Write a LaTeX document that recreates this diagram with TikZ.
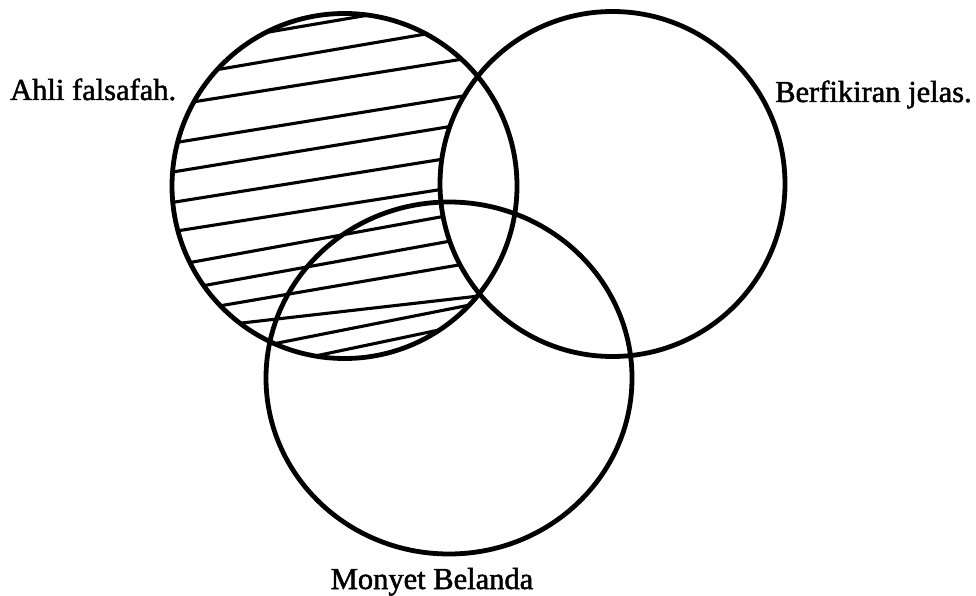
\documentclass[tikz,border=0pt]{standalone}
\usepackage{fontspec}
\setmainfont{Liberation Serif}
\newfontfamily\scanserif[FakeBold=1.6]{Liberation Serif}
\begin{document}
\begin{tikzpicture}[x=1pt,y=-1pt,
  ring/.style={line width=4.8pt},
  hatchline/.style={line width=3.1pt, line cap=round},
  lbl/.style={inner sep=0pt, font=\scanserif\fontsize{30.5}{34}\selectfont}]
\useasboundingbox (0,0) rectangle (976,596);
\coordinate (cA) at (344.5,186);
\coordinate (cB) at (612.5,184);
\coordinate (cC) at (449,378);
% hatching of A outside B
\begin{scope}[even odd rule]
  \clip (cA) circle [radius=172.5];
  \clip (-10,-10) rectangle (986,606) (cB) circle [radius=172.5];
  \draw[hatchline] (160,50.5) -- (530,-12.4);
  \draw[hatchline] (160,79.4) -- (530,16.2);
  \draw[hatchline] (160,107.2) -- (530,48.4);
  \draw[hatchline] (160,145.1) -- (530,85.2);
  \draw[hatchline] (160,174.1) -- (530,113.4);
  \draw[hatchline] (160,204.4) -- (530,145.2);
  \draw[hatchline] (160,233.6) -- (530,175.5);
  \draw[hatchline] (160,268) -- (530,200.7);
  \draw[hatchline] (160,293.5) -- (530,226.7);
  \draw[hatchline] (160,316.1) -- (530,252.8);
  \draw[hatchline] (160,332.3) -- (530,290.2);
  \draw[hatchline] (160,366.3) -- (530,293.1);
  \draw[hatchline] (160,388.6) -- (530,310.9);
\end{scope}
\draw[ring] (cA) circle [radius=172.5];
\draw[ring] (cB) circle [radius=172.5];
\draw[ring] (cC) ellipse [x radius=183, y radius=176];
\node[lbl, anchor=base west] (la) at (10,100) {Ahli falsafah.};
\node[lbl, anchor=base west] (lb) at (775,102) {Berfikiran jelas.};
\node[lbl, anchor=base] (lc) at (432,589) {Monyet Belanda};
\end{tikzpicture}
\end{document}
